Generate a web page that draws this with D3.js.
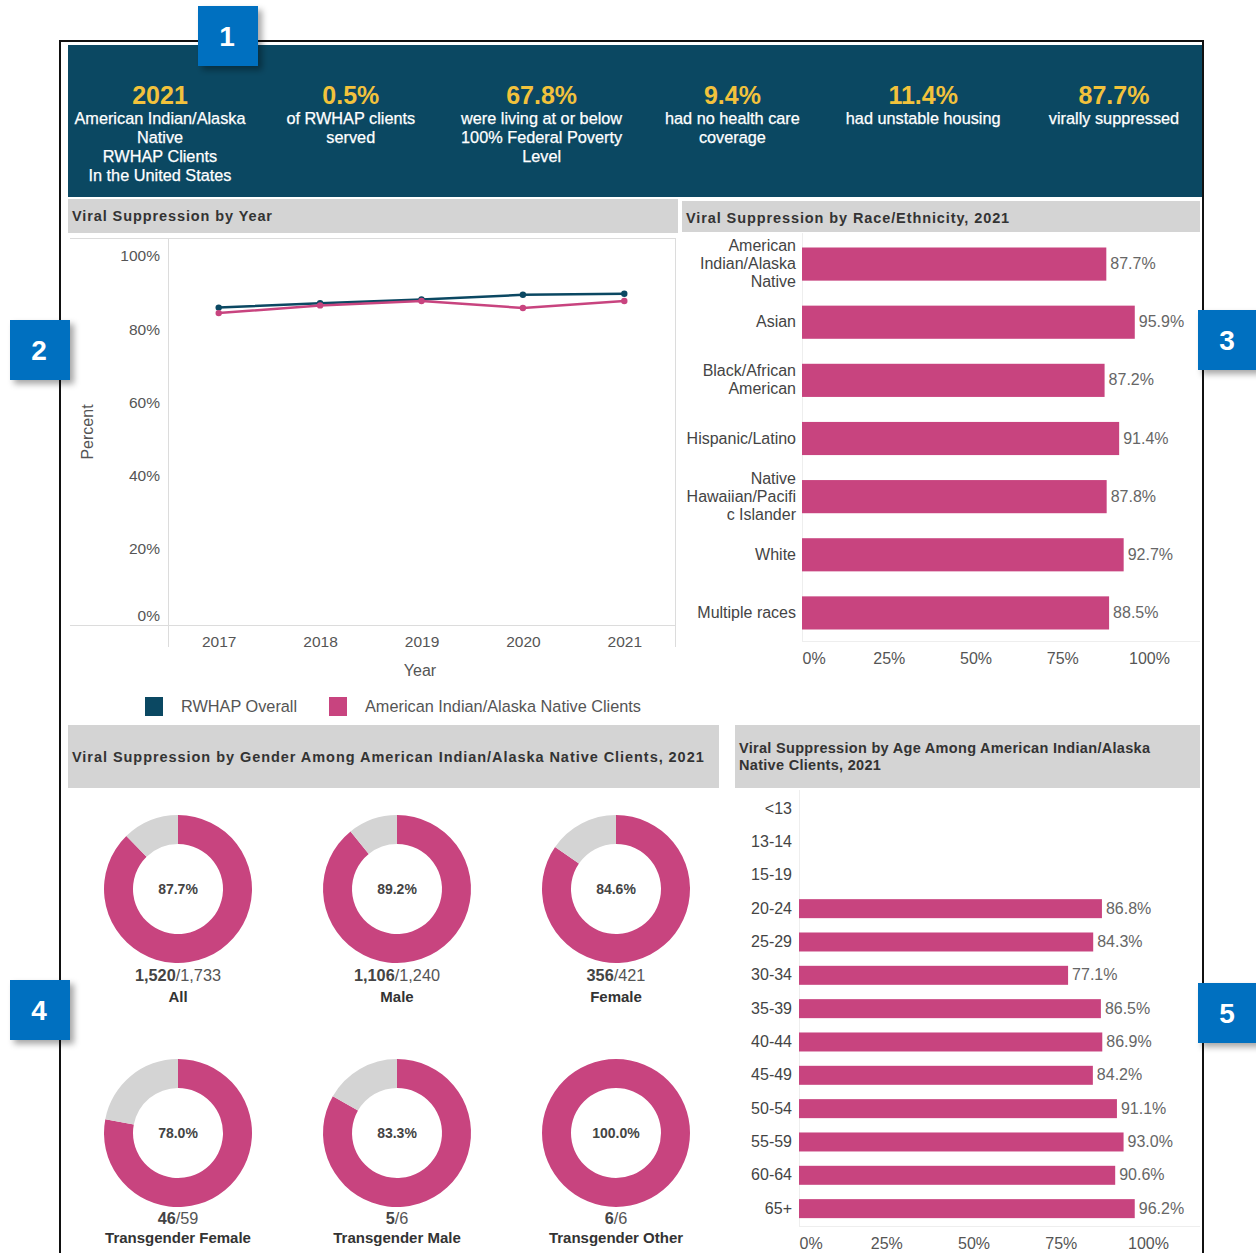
<!DOCTYPE html>
<html>
<head>
<meta charset="utf-8">
<script src="https://cdn.jsdelivr.net/npm/d3@7"></script>
<style>
  body { margin: 0; background: #fff; }
  svg { display: block; font-family: "Liberation Sans", Arial, sans-serif; }
</style>
</head>
<body>
<svg id="dash" width="1256" height="1253"></svg>
<script>
// headline numbers
const headlineValues = ["2021", "0.5%", "67.8%", "9.4%", "11.4%", "87.7%"];
const headlineLabels = [
  ["American Indian/Alaska", "Native", "RWHAP Clients", "In the United States"],
  ["of RWHAP clients", "served"],
  ["were living at or below", "100% Federal Poverty", "Level"],
  ["had no health care", "coverage"],
  ["had unstable housing"],
  ["virally suppressed"]
];

// viral suppression by year
const years = ["2017", "2018", "2019", "2020", "2021"];
const overallRates = [85.9, 87.1, 88.1, 89.4, 89.7];
const aianRates = [84.4, 86.5, 87.7, 85.8, 87.7];
const pctTicks = [0, 20, 40, 60, 80, 100];
const seriesNames = ["RWHAP Overall", "American Indian/Alaska Native Clients"];

// race / ethnicity
const raceGroups = ["American\nIndian/Alaska\nNative", "Asian", "Black/African\nAmerican", "Hispanic/Latino",
  "Native\nHawaiian/Pacifi\nc Islander", "White", "Multiple races"];
const raceRates = [87.7, 95.9, 87.2, 91.4, 87.8, 92.7, 88.5];
const barTicks = [0, 25, 50, 75, 100];

// gender
const genderGroups = ["All", "Male", "Female", "Transgender Female", "Transgender Male", "Transgender Other"];
const genderSuppressed = ["1,520", "1,106", "356", "46", "5", "6"];
const genderTotal = ["1,733", "1,240", "421", "59", "6", "6"];
const genderRates = [87.7, 89.2, 84.6, 78.0, 83.3, 100.0];

// age
const ageGroups = ["<13", "13-14", "15-19", "20-24", "25-29", "30-34", "35-39", "40-44", "45-49", "50-54", "55-59", "60-64", "65+"];
const ageRates = [null, null, null, 86.8, 84.3, 77.1, 86.5, 86.9, 84.2, 91.1, 93.0, 90.6, 96.2];

const navy = "#0b4862", pink = "#c8447f", grey = "#d4d4d4", yellow = "#f2c23c";
const txt = "#555";
const fs = 16; // general label size

const svg = d3.select("#dash");

// shadow for the blue number badges
const defs = svg.append("defs");
defs.append("filter").attr("id", "shadow").attr("x", "-30%").attr("y", "-30%").attr("width", "170%").attr("height", "170%")
  .append("feDropShadow").attr("dx", 4).attr("dy", 4).attr("stdDeviation", 3).attr("flood-color", "#000").attr("flood-opacity", 0.35);

// outer frame
svg.append("rect").attr("x", 60).attr("y", 41).attr("width", 1143).attr("height", 1260)
  .attr("fill", "none").attr("stroke", "#111").attr("stroke-width", 2);

// ---- header band
svg.append("rect").attr("x", 68).attr("y", 45).attr("width", 1134).attr("height", 152).attr("fill", navy);
const hx = d3.scalePoint().domain(d3.range(6)).range([160, 1114]);
headlineValues.forEach((v, i) => {
  svg.append("text").attr("x", hx(i)).attr("y", 104).attr("text-anchor", "middle")
    .attr("fill", yellow).attr("font-size", 25).attr("font-weight", "bold").text(v);
  headlineLabels[i].forEach((l, j) => {
    svg.append("text").attr("x", hx(i)).attr("y", 124 + j * 19).attr("text-anchor", "middle")
      .attr("fill", "#fff").attr("font-size", 16.3).attr("stroke", "#fff").attr("stroke-width", 0.25).text(l);
  });
});

function titleBar(x, y, w, h, lines, ty, spacing) {
  svg.append("rect").attr("x", x).attr("y", y).attr("width", w).attr("height", h).attr("fill", grey);
  lines.forEach((l, j) => {
    svg.append("text").attr("x", x + 4).attr("y", ty + j * 17).attr("fill", "#333")
      .attr("font-size", 14.5).attr("font-weight", "bold").attr("letter-spacing", spacing).text(l);
  });
}

// ---- viral suppression by year
titleBar(68, 199, 610, 34, ["Viral Suppression by Year"], 221, 0.9);
const xYear = d3.scalePoint().domain(years).range([168, 675]).padding(0.5);
const yPct = d3.scaleLinear().domain([0, 100]).range([622, 256]);

const frame = svg.append("g").attr("stroke", "#dcdcdc").attr("stroke-width", 1);
frame.append("line").attr("x1", 70).attr("x2", 675).attr("y1", 238.5).attr("y2", 238.5);
frame.append("line").attr("x1", 70).attr("x2", 675).attr("y1", 625.5).attr("y2", 625.5);
frame.append("line").attr("x1", 168.5).attr("x2", 168.5).attr("y1", 238).attr("y2", 647);
frame.append("line").attr("x1", 675.5).attr("x2", 675.5).attr("y1", 238).attr("y2", 647);

const yAx = svg.append("g").attr("transform", "translate(160,0)")
  .call(d3.axisLeft(yPct).tickValues(pctTicks).tickSize(0).tickPadding(0).tickFormat(d => d + "%"));
yAx.select(".domain").remove();
yAx.selectAll("text").attr("font-size", 15.5).attr("fill", txt).attr("font-family", null);
yAx.selectAll(".tick").filter(d => d === 0).attr("transform", `translate(0,${yPct(0) - 6})`);

const xAx = svg.append("g").attr("transform", "translate(0,631)")
  .call(d3.axisBottom(xYear).tickSize(0).tickPadding(0));
xAx.select(".domain").remove();
xAx.selectAll("text").attr("font-size", 15.5).attr("fill", txt).attr("font-family", null).attr("dy", "1em");

svg.append("text").attr("x", 420).attr("y", 676).attr("text-anchor", "middle")
  .attr("font-size", fs).attr("fill", txt).text("Year");
svg.append("text").attr("transform", "translate(93,432) rotate(-90)").attr("text-anchor", "middle")
  .attr("font-size", fs).attr("fill", txt).text("Percent");

const lineGen = d3.line().x((d, i) => xYear(years[i])).y(d => yPct(d));
[[overallRates, navy], [aianRates, pink]].forEach(([vals, col]) => {
  svg.append("path").datum(vals).attr("d", lineGen).attr("fill", "none")
    .attr("stroke", col).attr("stroke-width", 2.5);
  svg.append("g").selectAll("circle").data(vals).join("circle")
    .attr("cx", (d, i) => xYear(years[i])).attr("cy", d => yPct(d)).attr("r", 3.2).attr("fill", col);
});

// legend
const legX = [145, 329];
seriesNames.forEach((s, i) => {
  svg.append("rect").attr("x", legX[i]).attr("y", 697).attr("width", 18).attr("height", 19)
    .attr("fill", i === 0 ? navy : pink);
  svg.append("text").attr("x", legX[i] + 36).attr("y", 712).attr("font-size", 16.3).attr("fill", txt).text(s);
});

// ---- race / ethnicity bars
titleBar(682, 201, 518, 31, ["Viral Suppression by Race/Ethnicity, 2021"], 223, 0.9);
const xRace = d3.scaleLinear().domain([0, 100]).range([802, 1149]);
const yRace = d3.scaleBand().domain(raceGroups).range([235, 642]).paddingInner(0.43).paddingOuter(0.215);

svg.append("line").attr("x1", 802.5).attr("x2", 802.5).attr("y1", 233).attr("y2", 641).attr("stroke", "#eee");
svg.append("line").attr("x1", 802).attr("x2", 1200).attr("y1", 641.5).attr("y2", 641.5).attr("stroke", "#eee");

svg.append("g").selectAll("rect").data(raceGroups).join("rect")
  .attr("x", xRace(0)).attr("y", d => yRace(d))
  .attr("width", (d, i) => xRace(raceRates[i]) - xRace(0)).attr("height", yRace.bandwidth())
  .attr("fill", pink);
svg.append("g").selectAll("text").data(raceGroups).join("text")
  .attr("x", (d, i) => xRace(raceRates[i]) + 4).attr("y", d => yRace(d) + yRace.bandwidth() / 2 + 5)
  .attr("font-size", fs).attr("fill", "#666").text((d, i) => raceRates[i].toFixed(1) + "%");

raceGroups.forEach(g => {
  const lines = g.split("\n");
  const cy = yRace(g) + yRace.bandwidth() / 2;
  lines.forEach((l, j) => {
    svg.append("text").attr("x", 796).attr("y", cy + 5 + (j - (lines.length - 1) / 2) * 18)
      .attr("text-anchor", "end").attr("font-size", fs).attr("fill", "#444").text(l);
  });
});

const raceAx = svg.append("g").attr("transform", "translate(0,651)")
  .call(d3.axisBottom(xRace).tickValues(barTicks).tickSize(0).tickPadding(0).tickFormat(d => d + "%"));
raceAx.select(".domain").remove();
raceAx.selectAll("text").attr("font-size", fs).attr("fill", txt).attr("font-family", null).attr("dy", "0.8em");
raceAx.selectAll(".tick").filter(d => d === 0).select("text").attr("text-anchor", "start");

// ---- gender donuts
titleBar(68, 725, 651, 63, ["Viral Suppression by Gender Among American Indian/Alaska Native Clients, 2021"], 762, 0.95);
const donutX = d3.scalePoint().domain([0, 1, 2]).range([178, 616]);
const donutY = d3.scalePoint().domain([0, 1]).range([889, 1133]);
const pie = d3.pie().sort(null);
const arc = d3.arc().innerRadius(45).outerRadius(74);

genderGroups.forEach((g, i) => {
  const cx = donutX(i % 3), cy = donutY(Math.floor(i / 3));
  const row = Math.floor(i / 3);
  const gg = svg.append("g").attr("transform", `translate(${cx},${cy})`);
  gg.selectAll("path").data(pie([genderRates[i], 100 - genderRates[i]])).join("path")
    .attr("d", arc).attr("fill", (d, k) => k === 0 ? pink : grey);
  gg.append("text").attr("y", 5).attr("text-anchor", "middle").attr("font-size", 14)
    .attr("font-weight", "bold").attr("fill", "#444").text(genderRates[i].toFixed(1) + "%");
  const cnt = gg.append("text").attr("y", row === 0 ? 92 : 91).attr("text-anchor", "middle")
    .attr("font-size", 16.3).attr("fill", "#555");
  cnt.append("tspan").attr("font-weight", "bold").attr("fill", "#444").text(genderSuppressed[i]);
  cnt.append("tspan").text("/" + genderTotal[i]);
  gg.append("text").attr("y", row === 0 ? 113 : 110).attr("text-anchor", "middle")
    .attr("font-size", 15).attr("font-weight", "bold").attr("fill", "#333").text(g);
});

// ---- age bars
titleBar(735, 725, 465, 63, ["Viral Suppression by Age Among American Indian/Alaska", "Native Clients, 2021"], 753, 0.3);
const xAge = d3.scaleLinear().domain([0, 100]).range([799, 1148]);
const yAge = d3.scaleBand().domain(ageGroups).range([792, 1225.3]).paddingInner(0.43).paddingOuter(0.215);

svg.append("line").attr("x1", 799.5).attr("x2", 799.5).attr("y1", 790).attr("y2", 1226).attr("stroke", "#eee");
svg.append("line").attr("x1", 799).attr("x2", 1200).attr("y1", 1226.5).attr("y2", 1226.5).attr("stroke", "#eee");

const ageData = ageGroups.map((g, i) => ({ g, v: ageRates[i] })).filter(d => d.v !== null);
svg.append("g").selectAll("rect").data(ageData).join("rect")
  .attr("x", xAge(0)).attr("y", d => yAge(d.g))
  .attr("width", d => xAge(d.v) - xAge(0)).attr("height", yAge.bandwidth()).attr("fill", pink);
svg.append("g").selectAll("text").data(ageData).join("text")
  .attr("x", d => xAge(d.v) + 4).attr("y", d => yAge(d.g) + yAge.bandwidth() / 2 + 5)
  .attr("font-size", fs).attr("fill", "#666").text(d => d.v.toFixed(1) + "%");

const ageYAx = svg.append("g").attr("transform", "translate(792,0)")
  .call(d3.axisLeft(yAge).tickSize(0).tickPadding(0));
ageYAx.select(".domain").remove();
ageYAx.selectAll("text").attr("font-size", fs).attr("fill", "#444").attr("font-family", null);

const ageXAx = svg.append("g").attr("transform", "translate(0,1236)")
  .call(d3.axisBottom(xAge).tickValues(barTicks).tickSize(0).tickPadding(0).tickFormat(d => d + "%"));
ageXAx.select(".domain").remove();
ageXAx.selectAll("text").attr("font-size", fs).attr("fill", txt).attr("font-family", null).attr("dy", "0.8em");
ageXAx.selectAll(".tick").filter(d => d === 0).select("text").attr("text-anchor", "start");

// ---- numbered badges
const badges = [[198, 6, "1"], [10, 320, "2"], [1198, 310, "3"], [10, 980, "4"], [1198, 983, "5"]];
badges.forEach(([x, y, n]) => {
  svg.append("rect").attr("x", x).attr("y", y).attr("width", 60).attr("height", 60)
    .attr("fill", "#0070c0").attr("filter", "url(#shadow)");
  svg.append("text").attr("x", x + 29).attr("y", y + 40).attr("text-anchor", "middle")
    .attr("fill", "#fff").attr("font-size", 28).attr("font-weight", "bold").text(n);
});
</script>
</body>
</html>
